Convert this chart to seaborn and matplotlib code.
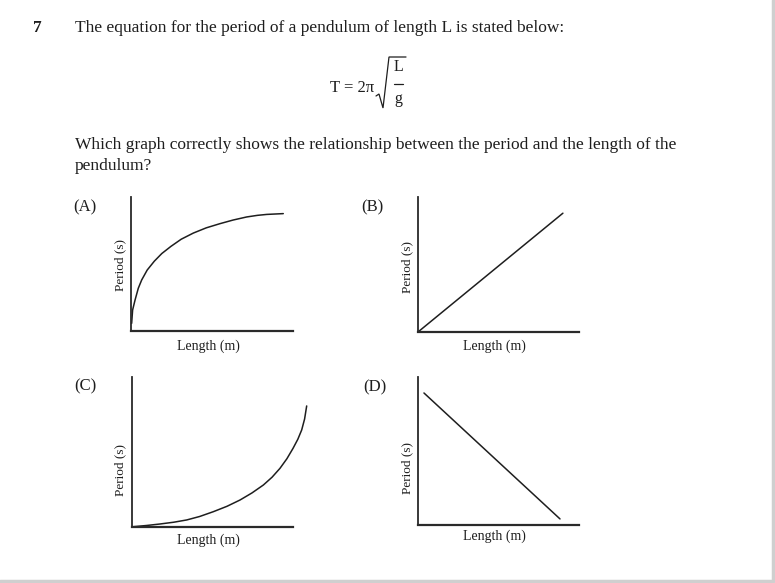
import matplotlib
matplotlib.use("Agg")
import matplotlib.pyplot as plt
import seaborn as sns
from matplotlib.lines import Line2D

# ---- data (arbitrary units 0-10 along each axis) ----
a_length = [0.04, 0.10, 0.25, 0.45, 0.66, 1.00, 1.44, 1.90, 2.47, 3.10, 3.85, 4.65, 5.49, 6.30, 7.14, 7.80, 8.38, 9.40]
a_period = [0.57, 1.57, 2.31, 3.19, 3.81, 4.55, 5.21, 5.78, 6.32, 6.85, 7.31, 7.70, 8.01, 8.28, 8.51, 8.63, 8.70, 8.76]

b_length = [0.0, 9.0]
b_period = [0.0, 8.8]

c_length = [0.08, 0.90, 1.74, 2.60, 3.40, 4.20, 5.05, 5.90, 6.71, 7.45, 8.16, 8.70, 9.19, 9.62, 10.00, 10.30, 10.54, 10.72, 10.85]
c_period = [0.02, 0.10, 0.20, 0.32, 0.47, 0.70, 1.02, 1.38, 1.80, 2.27, 2.80, 3.32, 3.91, 4.55, 5.24, 5.85, 6.47, 7.20, 8.07]

d_length = [0.37, 8.82]
d_period = [8.92, 0.41]

panel_letters = ["(A)", "(B)", "(C)", "(D)"]
x_label = "Length (m)"
y_label = "Period (s)"

title_line = "The equation for the period of a pendulum of length L is stated below:"
question_lines = ["Which graph correctly shows the relationship between the period and the length of the",
                  "pendulum?"]
eq_left = "T = 2\u03c0"
eq_num = "L"
eq_den = "g"

# ---- figure ----
sns.set_theme(style="white")
plt.rcParams['font.family'] = ['Liberation Serif', 'DejaVu Serif']

W, H = 775, 583
fig = plt.figure(figsize=(W / 100, H / 100), dpi=100)
fig.patch.set_facecolor("white")

def fx(x):
    return x / W

def fy(y):
    return 1 - y / H

def px_axes(left, top, right, bottom):
    return fig.add_axes([left / W, 1 - bottom / H, (right - left) / W, (bottom - top) / H])

ink = "#1e1e1e"
axis_ink = "#2a2a2a"

panels = [
    (a_length, a_period, (131, 197, 293, 331), (208, 346), (120, 265), (85, 207)),
    (b_length, b_period, (418, 197, 579, 332), (494, 346), (407, 267), (372, 207)),
    (c_length, c_period, (132, 377, 293, 527), (208, 540), (120, 470), (85, 386)),
    (d_length, d_period, (418, 377, 579, 525), (494, 536), (407, 468), (375, 387)),
]

for (lx, ly, box, xl, yl, lt), letter in zip(panels, panel_letters):
    ax = px_axes(*box)
    ax.set_xlim(0, 10)
    ax.set_ylim(0, 10)
    sns.lineplot(x=lx, y=ly, ax=ax, color=ink, linewidth=1.1, sort=False)
    for ln in ax.lines:
        ln.set_clip_on(False)
        ln.set_solid_joinstyle("round")
    ax.set_xticks([])
    ax.set_yticks([])
    ax.set_xlabel("")
    ax.set_ylabel("")
    ax.set_facecolor("none")
    for s in ["top", "right"]:
        ax.spines[s].set_visible(False)
    ax.spines["left"].set_color(axis_ink)
    ax.spines["left"].set_linewidth(1.3)
    ax.spines["bottom"].set_color(axis_ink)
    ax.spines["bottom"].set_linewidth(1.6)
    fig.text(fx(xl[0]), fy(xl[1]), x_label, ha="center", va="center", fontsize=10, color=ink)
    fig.text(fx(yl[0]), fy(yl[1]), y_label, ha="center", va="center", rotation=90, fontsize=9.5, color=ink)
    fig.text(fx(lt[0]), fy(lt[1]), letter, ha="center", va="center", fontsize=12, color=ink)

# header texts
fig.text(fx(37), fy(28), "7", ha="center", va="center", fontsize=12.5, fontweight="bold", color=ink)
fig.text(fx(75), fy(28), title_line, ha="left", va="center", fontsize=12.5, color=ink)

# equation T = 2*pi*sqrt(L/g)
fig.text(fx(374), fy(88), eq_left, ha="right", va="center", fontsize=12, color=ink)
fig.lines.append(Line2D([fx(376), fx(379), fx(383), fx(389), fx(406)],
                        [fy(96), fy(94), fy(108), fy(57), fy(57)],
                        transform=fig.transFigure, color=ink, linewidth=0.9, solid_joinstyle="miter"))
fig.text(fx(398), fy(67), eq_num, ha="center", va="center", fontsize=11.5, color=ink)
fig.lines.append(Line2D([fx(394), fx(403)], [fy(84), fy(84)], transform=fig.transFigure,
                        color=ink, linewidth=0.9))
fig.text(fx(398), fy(99), eq_den, ha="center", va="center", fontsize=11.5, color=ink)

fig.text(fx(75), fy(145), question_lines[0], ha="left", va="center", fontsize=12.5, color=ink)
fig.text(fx(75), fy(166), question_lines[1], ha="left", va="center", fontsize=12.5, color=ink)

# light scan border on right and bottom
fig.lines.append(Line2D([0, 1 - 2 / W], [2 / H, 2 / H], transform=fig.transFigure, color="#cfcfcf", linewidth=2.5))
fig.lines.append(Line2D([1 - 2 / W, 1 - 2 / W], [2 / H, 1], transform=fig.transFigure, color="#cfcfcf", linewidth=2.5))

fig.savefig("out.png", dpi=100, facecolor="white")
